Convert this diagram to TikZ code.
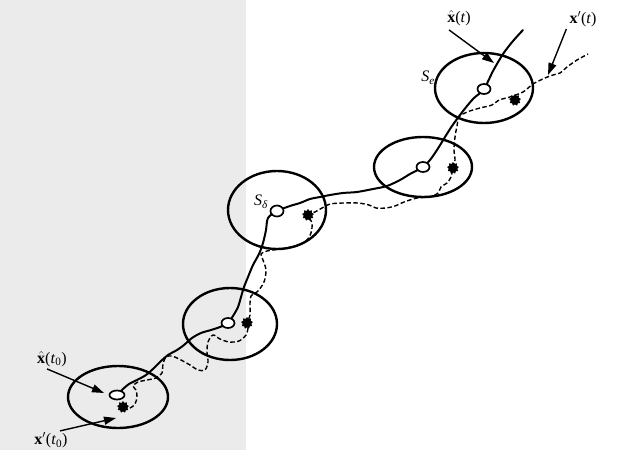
\documentclass[tikz,border=0pt]{standalone}
\usepackage{fontspec}
\setmainfont{Liberation Serif}
\usetikzlibrary{shapes.geometric,arrows.meta}
\newcommand\hatx{$\hat{\hbox{\bfseries x}}$}
\newcommand\primex{\textbf{x}$'$}
\begin{document}
\begin{tikzpicture}[x=1pt,y=-1pt,
  bigell/.style={ellipse, draw, line width=2.4pt, inner sep=0pt},
  smallell/.style={ellipse, draw, line width=1.7pt, fill=white, minimum width=13pt, minimum height=10pt, inner sep=0pt},
  blob/.style={star, star points=9, star point ratio=1.4, fill=black, draw=black, line width=0.6pt, inner sep=0pt, minimum size=11pt},
  lab/.style={font=\fontsize{16}{18}\selectfont, inner sep=1pt},
  slab/.style={font=\fontsize{16}{18}\selectfont, inner sep=1pt},
  arr/.style={line width=1.4pt, -{Triangle[length=12pt,width=8pt]}},
  traj/.style={line width=2pt, line join=round, line cap=round},
  pert/.style={line width=1.4pt, dash pattern=on 4.5pt off 2.5pt}]
\useasboundingbox (0,0) rectangle (632,450);
\fill[white] (0,0) rectangle (632,450);
\fill[black!8] (0,0) rectangle (246,450);

% big ellipses
\node[bigell, minimum width=100pt, minimum height=62pt] (EA) at (118,397) {};
\node[bigell, minimum width=94pt, minimum height=72pt] (EB) at (230,324) {};
\node[bigell, minimum width=98pt, minimum height=78pt] (EC) at (277,210) {};
\node[bigell, minimum width=98pt, minimum height=60pt] (ED) at (423,167) {};
\node[bigell, minimum width=98pt, minimum height=70pt] (EE) at (484,88) {};

% end points of trajectories
\coordinate (xend) at (523,30);
\coordinate (pend) at (588,54);
\coordinate (sAc) at (117,395);
\coordinate (sBc) at (228,323);
\coordinate (sCc) at (277,211);
\coordinate (sDc) at (423,167);
\coordinate (sEc) at (484,89);
\coordinate (bAc) at (123,407);
\coordinate (bBc) at (247,323);
\coordinate (bCc) at (308,215);
\coordinate (bDc) at (453,168);
\coordinate (bEc) at (515,100);

% solid trajectory
\draw[traj] plot[smooth, tension=0.5] coordinates {(sAc) (123,389) (129,384) (137,380) (146,375) (154,368) (161,361) (168,355) (177,350) (184,345) (192,338) (201,333) (211,330) (220,327) (sBc)
  (233,316) (238,307) (241,297) (244,287) (248,277) (253,265) (259,254) (263,243) (266,230) (268,218) (sCc)
  (290,206) (300,203) (310,199) (320,197) (330,195) (343,193) (357,192) (373,189) (387,186) (400,180) (410,174) (sDc)
  (430,160) (437,150) (445,137) (452,126) (460,115) (467,106) (474,98) (sEc)
  (493,71) (503,54) (513,41) (xend)};

% dashed trajectory
\draw[pert] plot[smooth, tension=0.5] coordinates {(bAc) (130,408) (135,404) (137,397) (136,390) (133,386) (138,382) (147,380) (156,378) (162,373) (163,364) (166,357) (172,356) (181,360) (190,365) (198,370) (205,370) (208,362) (207,352) (208,342) (213,335) (220,339) (229,342) (239,341) (246,335) (248,328) (bBc)
  (250,315) (250,304) (251,296) (258,291) (264,282) (266,270) (263,260) (261,254) (267,251) (280,249) (296,246) (306,241) (311,233) (312,223) (bCc)
  (315,212) (322,208) (330,204) (343,203) (358,203) (369,205) (376,208) (386,208) (395,206) (404,202) (417,198) (430,197) (438,193) (441,187) (447,183) (451,177) (bDc)
  (455,160) (454,150) (455,137) (457,126) (459,117) (467,112) (480,108) (492,105) (499,100) (510,97) (523,92) (533,84) (545,78) (553,75) (560,73) (567,67) (577,60) (pend)};

% small open ellipses (forecast states)
\node[smallell, minimum width=15pt, minimum height=9pt] (sA) at (sAc) {};
\node[smallell] (sB) at (sBc) {};
\node[smallell, minimum height=11pt] (sC) at (sCc) {};
\node[smallell] (sD) at (sDc) {};
\node[smallell] (sE) at (sEc) {};

% blobs (perturbed states)
\node[blob] (bA) at (bAc) {};
\node[blob] (bB) at (bBc) {};
\node[blob] (bC) at (bCc) {};
\node[blob] (bD) at (bDc) {};
\node[blob] (bE) at (bEc) {};

% labels
\node[lab] (lxt) at (459,18) {\hatx(\textit{t})};
\node[lab] (lxpt) at (583,19) {\primex(\textit{t})};
\node[lab] (lxt0) at (52,359) {\hatx(\textit{t}\textsubscript{0})};
\node[lab] (lxpt0) at (51,440) {\primex(\textit{t}\textsubscript{0})};
\node[slab] (Se) at (428,78) {\textit{S}\textsubscript{\textit{e}}};
\node[slab] (Sd) at (261,202) {\textit{S}\textsubscript{\textit{δ}}};

% arrow targets
\coordinate (tA) at (494,63);
\coordinate (tB) at (548,75);
\coordinate (tC) at (104,393);
\coordinate (tD) at (116,418);

\draw[arr] ([shift={(-10,3)}]lxt.south) -- (tA);
\draw[arr] ([shift={(-2,1)}]lxpt.south west) -- (tB);
\draw[arr] ([shift={(-5,1)}]lxt0.south) -- (tC);
\draw[arr] ([shift={(9,0)}]lxpt0.north) -- (tD);
\end{tikzpicture}
\end{document}
